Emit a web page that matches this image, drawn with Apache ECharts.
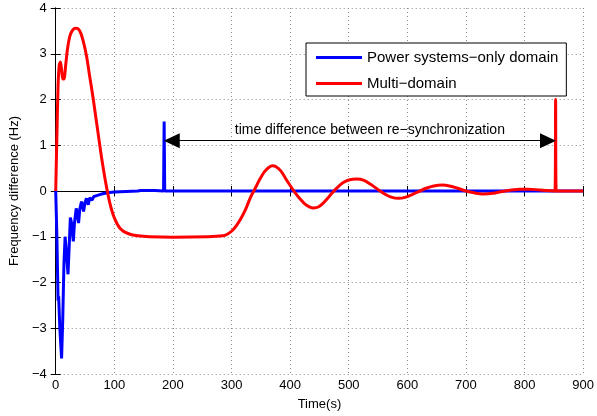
<!DOCTYPE html>
<html>
<head>
<meta charset="utf-8">
<script src="https://cdn.jsdelivr.net/npm/echarts@6/dist/echarts.min.js"></script>
<style>
html,body{margin:0;padding:0;background:#fff;}
#c{width:597px;height:416px;}
</style>
</head>
<body>
<div id="c"></div>
<script>
// ---- data ----
var seriesNames = ['Power systems\u2212only domain', 'Multi\u2212domain'];
var xTicks = [0,100,200,300,400,500,600,700,800,900];
var yTicks = [-4,-3,-2,-1,0,1,2,3,4];

var blueT = [0,2,4,5,7,10,12,14,16,18,21,23,25,27,30,32,35,37,39,41,44,46,47.5,50,52.5,54,55.5,58,60,62,65,70,75,80,88,100,120,140,145,148,151,154,157,160,163,166,169,172,184,185,186,900];
var blueV = [0,-1.0,-2.4,-2.3,-3.0,-3.66,-2.8,-1.6,-1.0,-1.3,-1.82,-1.2,-0.58,-0.7,-1.1,-0.7,-0.38,-0.5,-0.7,-0.4,-0.23,-0.35,-0.45,-0.25,-0.16,-0.25,-0.3,-0.15,-0.11,-0.2,-0.12,-0.1,-0.08,-0.06,-0.04,-0.02,-0.01,0,0.012,-0.012,0.012,-0.012,0.012,-0.012,0.012,-0.012,0.012,0,0,1.52,0,0];

var redT = [0,2,4,6,8,10,12,14,17,20,24,28,33,38,43,48,53,58,63,68,73,78,83,88,93,98,104,110,118,128,140,160,200,260,285,292,300,308,316,324,332,340,348,356,364,370,376,384,392,400,408,416,424,432,440,448,456,464,472,480,490,500,514,526,538,550,562,574,585,596,608,620,632,645,660,672,686,700,714,730,746,762,778,792,806,820,835,852,853,854,900];
var redV = [0,1.2,2.3,2.75,2.82,2.65,2.45,2.45,2.75,3.1,3.38,3.5,3.56,3.55,3.44,3.22,2.92,2.5,2.1,1.65,1.2,0.75,0.35,0.0,-0.3,-0.52,-0.7,-0.82,-0.9,-0.95,-0.98,-1.0,-1.01,-1.0,-0.98,-0.95,-0.88,-0.76,-0.6,-0.4,-0.15,0.05,0.25,0.42,0.52,0.55,0.53,0.44,0.28,0.12,-0.03,-0.16,-0.27,-0.34,-0.37,-0.35,-0.27,-0.16,-0.04,0.07,0.18,0.24,0.26,0.23,0.14,0.03,-0.07,-0.14,-0.16,-0.14,-0.08,-0.01,0.06,0.11,0.13,0.11,0.06,0.0,-0.04,-0.065,-0.05,-0.01,0.02,0.04,0.04,0.03,0.01,0.0,2.0,0.0,0.0];

var annotText = 'time difference between re\u2212synchronization';
// arrow heads are centred on these points (tips land on t=185 and t=853)
var arrowFrom = [198, 1.1];
var arrowTo = [840, 1.1];
var annotPos = [536, 1.33];

function pairs(t, v){ var out=[]; for(var i=0;i<t.length;i++) out.push([t[i], v[i]]); return out; }
function minus(v){ return String(v).replace('-', '\u2212'); }

var FONT = '"Liberation Sans", Arial, Helvetica, sans-serif';
var chart = echarts.init(document.getElementById('c'), null, {renderer:'canvas'});

var splitStyle = {show:true, lineStyle:{color:'#8a8a8a', type:[1,3], width:1}};
var tickIn = {show:true, inside:true, length:5, lineStyle:{color:'#000'}};
var axLine = {show:true, lineStyle:{color:'#000', width:1}};

chart.setOption({
  backgroundColor:'#fff',
  animation:false,
  textStyle:{fontFamily:FONT},
  grid:{left:53, right:12, top:8, bottom:42, containLabel:false},
  legend:{
    show:true, orient:'vertical', left:306, top:43,
    data:[{name:seriesNames[0], icon:'rect'},{name:seriesNames[1], icon:'rect'}],
    itemWidth:46, itemHeight:3, itemGap:11,
    padding:[7,8,5,10],
    backgroundColor:'#fff', borderColor:'#000', borderWidth:1, borderRadius:0,
    textStyle:{fontFamily:FONT, fontSize:15, color:'#000'}
  },
  xAxis:[{
    type:'value', min:0, max:900, interval:100, position:'bottom',
    name:'Time(s)', nameLocation:'middle', nameGap:24,
    nameTextStyle:{fontFamily:FONT, fontSize:13, color:'#000'},
    axisLine:axLine, axisTick:tickIn, splitLine:splitStyle,
    axisLabel:{fontFamily:FONT, fontSize:13, color:'#000', margin:5}
  },{
    type:'value', min:0, max:900, interval:100, position:'top',
    axisLine:axLine, axisTick:tickIn, splitLine:{show:false}, axisLabel:{show:false}
  }],
  yAxis:[{
    type:'value', min:-4, max:4, interval:1, position:'left',
    name:'Frequency difference (Hz)', nameLocation:'middle', nameGap:28, nameRotate:90,
    nameTextStyle:{fontFamily:FONT, fontSize:13, color:'#000'},
    axisLine:axLine, axisTick:tickIn, splitLine:splitStyle,
    axisLabel:{fontFamily:FONT, fontSize:13, color:'#000', margin:9, formatter:function(v){return minus(v);}}
  },{
    type:'value', min:-4, max:4, interval:1, position:'right',
    axisLine:axLine, axisTick:tickIn, splitLine:{show:false}, axisLabel:{show:false}
  }],
  series:[{
    name:seriesNames[0], type:'line', data:pairs(blueT, blueV),
    symbol:'none', showSymbol:false, smooth:false,
    lineStyle:{color:'#0000ff', width:3}, itemStyle:{color:'#0000ff'},
    z:2
  },{
    name:seriesNames[1], type:'line', data:pairs(redT, redV),
    symbol:'none', showSymbol:false, smooth:0.3,
    lineStyle:{color:'#ff0000', width:3}, itemStyle:{color:'#ff0000'},
    z:3,
    markLine:{
      silent:true, animation:false,
      symbol:['triangle','triangle'], symbolSize:[15,16],
      lineStyle:{color:'#000', width:1, type:'solid'},
      label:{show:false},
      data:[[{coord:arrowFrom},{coord:arrowTo}]]
    },
    markPoint:{
      silent:true, animation:false,
      symbol:'rect', symbolSize:0,
      data:[{coord:annotPos, value:annotText}],
      label:{show:true, position:'inside', formatter:annotText, fontFamily:FONT, fontSize:14, color:'#000'}
    }
  }]
});
</script>
</body>
</html>
